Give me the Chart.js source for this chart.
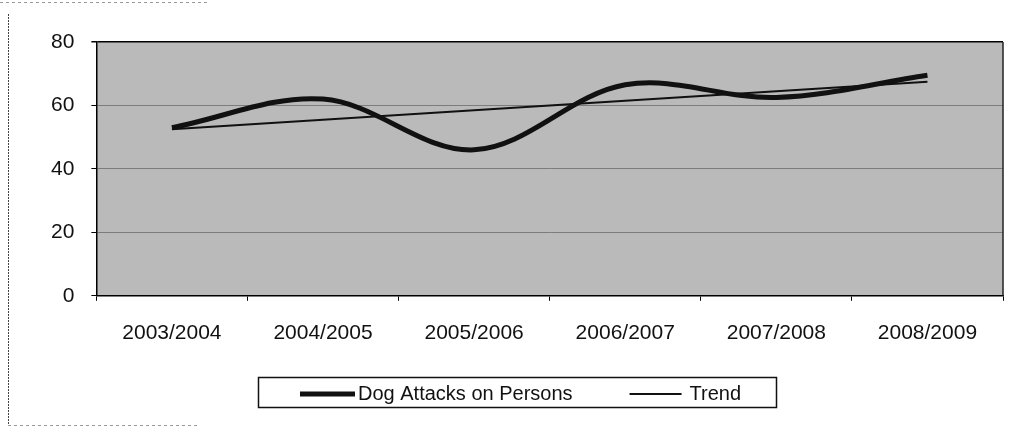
<!DOCTYPE html>
<html>
<head>
<meta charset="utf-8">
<script src="https://cdn.jsdelivr.net/npm/chart.js@4.4.1/dist/chart.umd.min.js"></script>
<style>
  html, body { margin: 0; padding: 0; background: #fff; }
  #wrap { width: 1018px; height: 428px; position: relative; }
</style>
</head>
<body>
<div id="wrap"><canvas id="chart"></canvas></div>
<script>
// Data
const seasons    = ['2003/2004', '2004/2005', '2005/2006', '2006/2007', '2007/2008', '2008/2009'];
const dogAttacks = [53, 62, 46, 66.5, 62.5, 69.5];
const trend      = [52.5, 55.5, 58.5, 61.5, 64.5, 67.5];
const yTicks     = [0, 20, 40, 60, 80];

const FONT = "'Liberation Sans', Arial, sans-serif";

// Gray plot area + right edge of the frame
const plotBackground = {
  id: 'plotBackground',
  beforeDraw(chart) {
    const { ctx, chartArea: a } = chart;
    ctx.save();
    ctx.fillStyle = '#bababa';
    ctx.fillRect(a.left, a.top, a.right - a.left, a.bottom - a.top);
    ctx.restore();
  },
  afterDraw(chart) {
    const { ctx, chartArea: a } = chart;
    ctx.save();
    ctx.strokeStyle = '#222';
    ctx.lineWidth = 1.5;
    ctx.beginPath();
    ctx.moveTo(a.right, a.top);
    ctx.lineTo(a.right, a.bottom);
    ctx.stroke();
    ctx.restore();
  }
};

// Dotted outer frame (left and partial bottom), like the scanned sheet
const outerFrame = {
  id: 'outerFrame',
  beforeDraw(chart) {
    const ctx = chart.ctx;
    ctx.save();
    ctx.strokeStyle = '#444';
    ctx.lineWidth = 1;
    ctx.setLineDash([2, 1]);
    ctx.beginPath();
    ctx.moveTo(8.5, 14);
    ctx.lineTo(8.5, 426);
    ctx.stroke();
    ctx.strokeStyle = '#999';
    ctx.setLineDash([3, 3]);
    ctx.beginPath();
    ctx.moveTo(8, 425.5);
    ctx.lineTo(200, 425.5);
    ctx.moveTo(0, 2.5);
    ctx.lineTo(210, 2.5);
    ctx.stroke();
    ctx.restore();
  }
};

// Boxed legend drawn under the axis
const boxLegend = {
  id: 'boxLegend',
  afterDraw(chart) {
    const ctx = chart.ctx;
    const sets = chart.data.datasets;
    ctx.save();
    ctx.font = '20px ' + FONT;
    ctx.textBaseline = 'middle';
    const y = 394;
    let x = 300;
    const widths = [55, 52];
    const gaps = [3, 8];
    sets.forEach((ds, i) => {
      ctx.strokeStyle = ds.borderColor;
      ctx.lineWidth = ds.borderWidth;
      ctx.beginPath();
      ctx.moveTo(x, y);
      ctx.lineTo(x + widths[i], y);
      ctx.stroke();
      x += widths[i] + gaps[i];
      ctx.fillStyle = '#111';
      ctx.fillText(ds.label, x, y);
      x += ctx.measureText(ds.label).width + 57;
    });
    ctx.strokeStyle = '#111';
    ctx.lineWidth = 1.5;
    ctx.strokeRect(258.5, 377.5, 518, 30);
    ctx.restore();
  }
};

new Chart(document.getElementById('chart'), {
  type: 'line',
  data: {
    labels: seasons,
    datasets: [
      {
        label:       'Dog Attacks on Persons',
        data:        dogAttacks,
        borderColor: '#111',
        borderWidth: 5,
        pointRadius: 0,
        tension:     0.35,
        fill:        false,
      },
      {
        label:       'Trend',
        data:        trend,
        borderColor: '#111',
        borderWidth: 2,
        pointRadius: 0,
        tension:     0,
        fill:        false,
      },
    ],
  },
  options: {
    responsive:          true,
    maintainAspectRatio: false,
    animation:           false,
    layout: { padding: { left: 34, right: 15, top: 42, bottom: 62 } },
    plugins: {
      legend:  { display: false },
      tooltip: { enabled: false },
    },
    scales: {
      x: {
        offset: true,
        grid:   { drawOnChartArea: false, drawTicks: true, tickLength: 5, color: '#000', offset: true },
        border: { color: '#000', width: 1.5 },
        ticks:  { color: '#111', font: { family: FONT, size: 21 }, padding: 20, maxRotation: 0 },
      },
      y: {
        min: yTicks[0],
        max: yTicks[yTicks.length - 1],
        afterBuildTicks: axis => { axis.ticks = yTicks.map(v => ({ value: v })); },
        grid: {
          color:      c => (c.tick && (c.tick.value === 80 || c.tick.value === 0)) ? '#000' : '#7c7c7c',
          lineWidth:  c => (c.tick && c.tick.value === 80) ? 1.5 : 1,
          tickColor:  '#000',
          tickLength: 5,
        },
        border: { color: '#000', width: 1.5 },
        ticks:  { color: '#111', font: { family: FONT, size: 21 }, padding: 17 },
      },
    },
  },
  plugins: [outerFrame, plotBackground, boxLegend],
});
</script>
</body>
</html>
